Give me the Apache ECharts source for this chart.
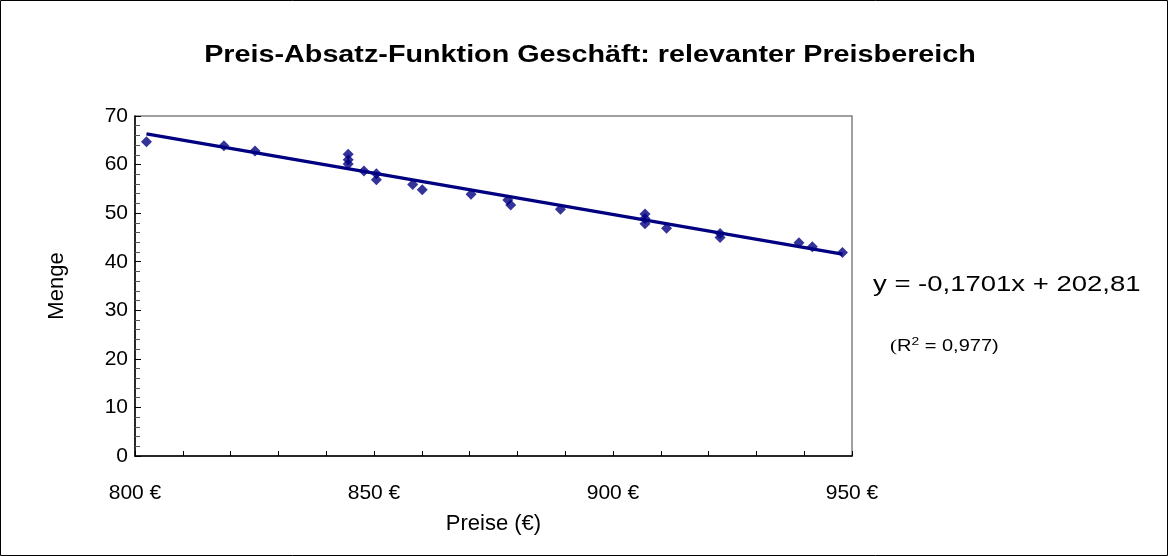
<!DOCTYPE html>
<html>
<head>
<meta charset="utf-8">
<script src="https://cdn.jsdelivr.net/npm/echarts@6/dist/echarts.min.js"></script>
<style>
html,body{margin:0;padding:0;background:#fff;}
#c{width:1168px;height:556px;}
</style>
</head>
<body>
<div id="c"></div>
<script>
var prices = [802.4, 818.6, 825.1, 844.6, 844.6, 844.6, 847.9, 850.5, 850.5, 858.1, 860.1, 870.3, 878.0, 878.6, 889.0, 906.7, 906.7, 906.7, 911.2, 922.4, 922.4, 938.9, 941.7, 948.0];
var quantities = [64.7, 63.9, 62.8, 62.1, 61.0, 60.1, 58.7, 58.1, 56.9, 55.9, 54.8, 53.9, 52.7, 51.7, 50.8, 49.8, 48.9, 47.8, 46.9, 45.8, 45.0, 43.9, 43.1, 41.9];
var trendX = [802.4, 948.0];
var trendY = [66.32, 41.56];
var xTicks = [800, 850, 900, 950];
var yTicks = [0, 10, 20, 30, 40, 50, 60, 70];
var titleText = 'Preis-Absatz-Funktion Geschäft: relevanter Preisbereich';
var equationText = 'y = -0,1701x + 202,81';

var pts = prices.map(function(p, i){ return [p, quantities[i]]; });
var trend = trendX.map(function(x, i){ return [x, trendY[i]]; });

var chart = echarts.init(document.getElementById('c'), null, {renderer:'canvas'});
var FONT = '"Liberation Sans", Arial, sans-serif';
chart.setOption({
  animation: false,
  backgroundColor: '#fff',
  textStyle: {fontFamily: FONT},
  grid: {left: 135, right: 316, top: 116, bottom: 100, show: true, borderColor: '#808080', borderWidth: 1.5, backgroundColor: '#fff'},
  xAxis: {
    type: 'value', min: xTicks[0], max: xTicks[xTicks.length-1], interval: 50,
    name: 'Preise (€)', nameLocation: 'middle', nameGap: 57,
    nameTextStyle: {fontFamily: FONT, fontSize: 22, color: '#000'},
    axisLine: {show: true, onZero: false, lineStyle: {color: '#000', width: 1.5}},
    axisTick: {show: true, inside: true, length: 5, lineStyle: {color: '#000'}},
    minorTick: {show: true, splitNumber: 5, length: 5, lineStyle: {color: '#000'}},
    splitLine: {show: false},
    axisLabel: {margin: 27, fontFamily: FONT, fontSize: 21, color: '#000', formatter: function(v){ return v + ' €'; }}
  },
  yAxis: {
    type: 'value', min: yTicks[0], max: yTicks[yTicks.length-1], interval: 10,
    name: 'Menge', nameLocation: 'middle', nameGap: 67, nameRotate: 90,
    nameTextStyle: {fontFamily: FONT, fontSize: 22, color: '#000'},
    axisLine: {show: true, onZero: false, lineStyle: {color: '#000', width: 1.5}},
    axisTick: {show: true, inside: true, length: 6, lineStyle: {color: '#000'}},
    minorTick: {show: true, splitNumber: 5, length: 5, lineStyle: {color: '#555'}},
    splitLine: {show: false},
    axisLabel: {margin: 7, fontFamily: FONT, fontSize: 21, color: '#000'}
  },
  series: [
    {type: 'scatter', data: pts, symbol: 'diamond', symbolSize: 11, itemStyle: {color: '#000080'}, z: 2},
    {type: 'line', data: trend, symbol: 'none', lineStyle: {color: '#000080', width: 3.5}, z: 3}
  ],
  graphic: [
    {type: 'rect', shape: {x: 0.5, y: 0.5, width: 1167, height: 555}, style: {fill: 'none', stroke: '#000', lineWidth: 1}, z: 100},
    {type: 'text', x: 590, y: 56, scaleX: 1.25, style: {text: titleText, font: 'bold 23px ' + FONT, fill: '#000', align: 'center', verticalAlign: 'middle'}},
    {type: 'text', x: 873, y: 285, scaleX: 1.25, style: {text: equationText, font: '22px ' + FONT, fill: '#000', align: 'left', verticalAlign: 'middle'}},
    {type: 'text', x: 890, y: 347, scaleX: 1.25, style: {
      text: '{p|(}{r|R}{s|2}{r| = 0,977)}', verticalAlign: 'middle', align: 'left',
      rich: {
        p: {fontFamily: '"Liberation Serif", serif', fontSize: 17, color: '#000'},
        r: {fontFamily: FONT, fontSize: 16, color: '#000'},
        s: {fontFamily: FONT, fontSize: 11, color: '#000', verticalAlign: 'top', padding: [0,0,10,0]}
      }
    }}
  ]
});
</script>
</body>
</html>
